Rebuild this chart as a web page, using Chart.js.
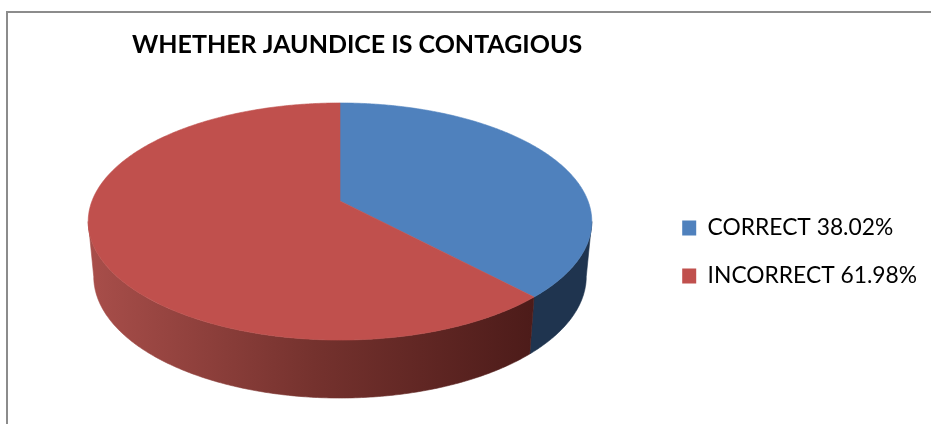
<!DOCTYPE html>
<html>
<head>
<meta charset="utf-8">
<title>Whether jaundice is contagious</title>
<script src="https://cdn.jsdelivr.net/npm/chart.js@4/dist/chart.umd.js"></script>
<style>
  html, body { margin: 0; padding: 0; background: #fff; overflow: hidden; }
  #wrap { position: relative; width: 931px; height: 424px; }
  #frame { position: absolute; left: 6px; top: 11px; right: 0; bottom: 0; border-top: 2px solid #8c8c8c; border-left: 2px solid #8c8c8c; }
  canvas { position: absolute; left: 0; top: 0; }
</style>
</head>
<body>
<div id="wrap">
  <div id="frame"></div>
  <canvas id="chart" width="931" height="424"></canvas>
</div>
<script>
const chartTitle = 'WHETHER JAUNDICE IS CONTAGIOUS';
const categories = ['CORRECT 38.02%', 'INCORRECT 61.98%'];
const shares = [38.02, 61.98];
const topColors = ['#4f81bd', '#c0504d'];

// how the flat pie is tilted on the page
const tilt = { cx: 340, cy: 201, rx: 248, ry: 115, persp: -0.173 };
const rimScaleX = 0.978, rimScaleY = 1.025, rimDrop = 54.5;

function project(a) {
  const d = 1 + tilt.persp * Math.sin(a);
  return {
    x: tilt.cx + tilt.rx * Math.cos(a) / d,
    y: tilt.cy + tilt.ry * Math.sin(a) / d,
  };
}

function lowerRim(p) {
  return {
    x: tilt.cx + (p.x - tilt.cx) * rimScaleX,
    y: tilt.cy + (p.y - tilt.cy) * rimScaleY + rimDrop,
  };
}

function sampleAngles(start, end) {
  const out = [];
  const n = Math.max(2, Math.ceil((end - start) / 0.01));
  for (let i = 0; i <= n; i++) out.push(start + (end - start) * i / n);
  return out;
}

function sideFill(ctx, index) {
  if (index === 0) return '#1f344f';
  const g = ctx.createLinearGradient(90, 0, 536, 0);
  g.addColorStop(0, '#a84e4a');
  g.addColorStop(0.5, '#75322e');
  g.addColorStop(1, '#4c1b19');
  return g;
}

// Redraws the arcs of the pie with depth, angles come from the chart's elements
const tiltedPie = {
  id: 'tiltedPie',
  beforeDatasetsDraw(chart) {
    const ctx = chart.ctx;
    const arcs = chart.getDatasetMeta(0).data;
    // the wall is only seen between the left and right extremes of the ellipse
    const frontStart = Math.asin(-tilt.persp), frontEnd = Math.PI - frontStart;
    ctx.save();
    ctx.lineWidth = 0.6;

    arcs.forEach((arc, i) => {
      // chart angles run from -PI/2 up to 3PI/2
      const from = Math.max(arc.startAngle, frontStart), to = Math.min(arc.endAngle, frontEnd);
      if (to <= from) return;
      const upper = sampleAngles(from, to).map(project);
      const lower = upper.map(lowerRim).reverse();
      ctx.beginPath();
      upper.concat(lower).forEach((p, k) => (k ? ctx.lineTo(p.x, p.y) : ctx.moveTo(p.x, p.y)));
      ctx.closePath();
      ctx.fillStyle = ctx.strokeStyle = sideFill(ctx, i);
      ctx.fill();
      ctx.stroke();
    });

    arcs.forEach((arc, i) => {
      ctx.beginPath();
      ctx.moveTo(tilt.cx, tilt.cy);
      sampleAngles(arc.startAngle, arc.endAngle).map(project).forEach(p => ctx.lineTo(p.x, p.y));
      ctx.closePath();
      ctx.fillStyle = ctx.strokeStyle = topColors[i];
      ctx.fill();
      ctx.stroke();
    });
    ctx.restore();
    return false;
  },
};

new Chart(document.getElementById('chart'), {
  type: 'pie',
  data: {
    labels: categories,
    datasets: [{ data: shares, backgroundColor: topColors, borderWidth: 0 }],
  },
  plugins: [tiltedPie],
  options: {
    responsive: false,
    animation: false,
    layout: { padding: { left: 132, right: 4, top: 30, bottom: 0 } },
    plugins: {
      tooltip: { enabled: false },
      title: {
        display: true,
        text: chartTitle,
        align: 'start',
        color: '#000',
        font: { family: 'Lato', size: 25, weight: 'bold' },
        padding: { top: 0, bottom: 20 },
      },
      legend: {
        position: 'right',
        fullSize: false,
        labels: {
          color: '#000',
          font: { family: 'Lato', size: 22.8 },
          boxWidth: 14,
          boxHeight: 15,
          padding: 25,
        },
      },
    },
  },
});
</script>
</body>
</html>
